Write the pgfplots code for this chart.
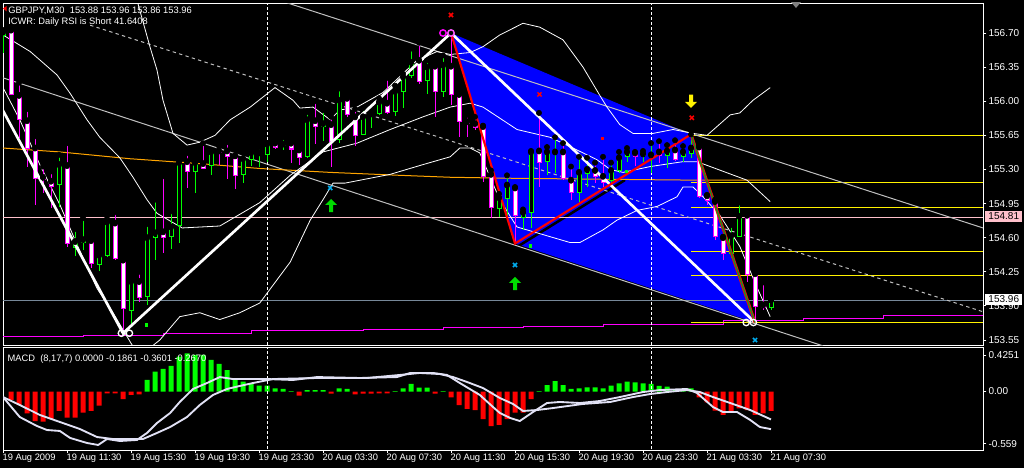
\documentclass[border=0pt]{standalone}
\usepackage{fontspec}
\setmainfont{Liberation Sans}
\usepackage{pgfplots}
\usepackage{pgfplotstable}
\pgfplotsset{compat=1.18}

\definecolor{bullc}{RGB}{0,255,0}
\definecolor{bearc}{RGB}{255,0,255}
\definecolor{trend}{RGB}{192,192,192}
\definecolor{bidline}{RGB}{119,136,153}
\definecolor{pinkl}{RGB}{255,192,203}
\definecolor{orangel}{RGB}{255,165,0}
\definecolor{macdl}{RGB}{225,225,245}
\definecolor{arrowgreen}{RGB}{0,220,0}
\definecolor{zzgreen}{RGB}{34,139,34}
\definecolor{ringpink}{RGB}{255,90,255}

% arrow marks (wingdings style)
\pgfdeclareplotmark{uarrow}{%
  \pgfpathmoveto{\pgfqpoint{0pt}{4.9pt}}%
  \pgfpathlineto{\pgfqpoint{4.5pt}{0.4pt}}%
  \pgfpathlineto{\pgfqpoint{1.5pt}{0.4pt}}%
  \pgfpathlineto{\pgfqpoint{1.5pt}{-4.9pt}}%
  \pgfpathlineto{\pgfqpoint{-1.5pt}{-4.9pt}}%
  \pgfpathlineto{\pgfqpoint{-1.5pt}{0.4pt}}%
  \pgfpathlineto{\pgfqpoint{-4.5pt}{0.4pt}}%
  \pgfpathclose\pgfusepathqfill}
\pgfdeclareplotmark{darrow}{%
  \pgfpathmoveto{\pgfqpoint{0pt}{-4.9pt}}%
  \pgfpathlineto{\pgfqpoint{4.5pt}{-0.4pt}}%
  \pgfpathlineto{\pgfqpoint{1.5pt}{-0.4pt}}%
  \pgfpathlineto{\pgfqpoint{1.5pt}{4.9pt}}%
  \pgfpathlineto{\pgfqpoint{-1.5pt}{4.9pt}}%
  \pgfpathlineto{\pgfqpoint{-1.5pt}{-0.4pt}}%
  \pgfpathlineto{\pgfqpoint{-4.5pt}{-0.4pt}}%
  \pgfpathclose\pgfusepathqfill}

% GBPJPY M30 bars, x = bar index
\pgfplotstableread{
i o h l c
0 156.67 156.73 156.50 156.71
7 155.15 155.45 154.91 155.35
9 154.50 154.69 154.41 154.56
10 154.55 154.80 154.47 154.58
12 154.33 154.45 154.26 154.42
13 154.42 154.82 154.40 154.76
16 153.85 154.16 153.68 154.15
18 154.00 154.74 153.91 154.60
19 154.60 154.99 154.37 154.65
21 154.61 154.87 154.48 154.71
22 154.73 155.41 154.55 155.37
24 155.28 155.42 155.06 155.37
26 155.34 155.48 155.24 155.48
30 155.25 155.47 155.16 155.41
31 155.40 155.51 155.34 155.47
32 155.46 155.53 155.33 155.47
33 155.45 155.57 155.38 155.56
35 155.55 155.63 155.50 155.56
38 155.43 155.89 155.42 155.81
40 155.74 155.91 155.59 155.77
42 155.61 156.13 155.57 156.01
45 155.66 155.93 155.65 155.84
46 155.86 155.88 155.73 155.87
47 155.87 156.03 155.86 155.99
49 155.89 156.16 155.85 156.10
50 156.10 156.28 155.93 156.25
51 156.26 156.54 156.24 156.40
53 156.21 156.42 156.07 156.35
55 156.10 156.47 156.04 156.37
62 154.90 155.05 154.81 155.01
63 155.00 155.24 154.81 155.14
65 154.81 154.89 154.68 154.86
66 154.86 155.49 154.70 155.48
68 155.38 155.53 155.24 155.48
69 155.47 155.63 155.26 155.48
72 155.06 155.43 154.97 155.27
73 155.26 155.42 155.12 155.30
76 155.19 155.37 155.14 155.29
77 155.29 155.48 155.26 155.42
78 155.43 155.52 155.38 155.48
80 155.44 155.49 155.38 155.46
81 155.44 155.57 155.26 155.45
83 155.44 155.55 155.31 155.49
85 155.43 155.54 155.38 155.48
86 155.46 155.66 155.42 155.52
91 154.44 154.73 154.39 154.62
92 154.61 154.96 154.61 154.82
96 153.88 153.96 153.86 153.96
}\bull

\pgfplotstableread{
i o h l c
1 156.73 156.73 156.06 156.07
2 156.06 156.19 155.62 155.81
3 155.80 155.92 155.33 155.52
4 155.52 155.64 154.94 155.21
5 155.22 155.33 155.06 155.20
6 155.18 155.28 154.90 155.13
8 155.34 155.57 154.50 154.54
11 154.57 154.60 154.29 154.34
14 154.75 154.86 154.37 154.39
15 154.37 154.37 153.62 153.87
17 154.15 154.25 153.94 153.99
20 154.66 155.23 154.44 154.60
23 155.38 155.47 155.11 155.28
25 155.36 155.57 155.31 155.31
27 155.49 155.54 155.35 155.47
28 155.49 155.58 155.20 155.43
29 155.44 155.44 155.10 155.24
34 155.57 155.58 155.51 155.53
36 155.57 155.58 155.37 155.51
37 155.50 155.50 155.35 155.42
39 155.80 156.00 155.56 155.74
41 155.76 155.84 155.33 155.59
43 156.03 156.08 155.84 155.86
44 155.84 155.92 155.54 155.65
48 155.98 156.24 155.87 155.88
52 156.42 156.60 156.18 156.20
54 156.36 156.37 155.84 156.10
56 156.36 156.70 155.96 156.07
57 156.07 156.10 155.63 155.79
58 155.79 155.86 155.63 155.77
59 155.77 155.84 155.70 155.73
60 155.74 155.75 155.17 155.23
61 155.25 155.29 154.80 154.91
64 155.11 155.12 154.54 154.83
67 155.49 155.88 155.12 155.37
70 155.48 155.57 155.19 155.21
71 155.19 155.33 154.99 155.06
74 155.29 155.37 155.16 155.23
75 155.23 155.43 155.12 155.17
79 155.47 155.48 155.34 155.43
82 155.48 155.59 155.37 155.44
84 155.50 155.60 155.39 155.40
87 155.53 155.55 155.01 155.02
88 155.03 155.04 154.94 154.98
89 154.97 154.99 154.58 154.61
90 154.60 154.61 154.37 154.44
93 154.83 154.85 154.15 154.22
94 154.23 154.24 153.73 153.89
95 153.91 154.14 153.86 153.88
}\bear

% Bollinger bands
\pgfplotstableread{
i p
16.4 157.14
18.4 156.55
19.25 156.32
20 156.01
21.25 155.67
23 155.55
24.6 155.58
26.5 155.65
28.4 155.81
30.9 155.94
34 156.14
36.25 156.01
37.1 155.93
38.75 155.94
40.9 155.81
42.1 155.91
44.25 155.94
47.5 156.09
51.75 156.42
54.25 156.51
55.9 156.48
58.4 156.50
60 156.56
62.1 156.68
65 156.80
67.1 156.76
70 156.63
72.5 156.35
74.6 156.06
75.5 155.94
77.1 155.76
78.75 155.67
81.25 155.67
83.75 155.71
86.25 155.67
88 155.65
90.9 155.86
92.1 155.88
93.75 156.01
95.9 156.14
}\bbup

\pgfplotstableread{
i p
0 156.68
3.4 156.51
6.75 156.27
8.4 156.08
10.5 155.81
12.1 155.63
14.6 155.42
16.25 155.22
18 154.99
19.25 154.85
22.4 154.70
27.1 154.72
32.1 154.96
35.9 155.24
40 155.48
44.25 155.57
48.4 155.71
52.5 155.84
55.9 155.94
58.4 155.98
60 155.94
64.25 155.71
68.4 155.63
71.75 155.50
74.25 155.40
75.9 155.30
77.5 155.27
80.9 155.33
85 155.38
86.75 155.38
88.4 155.33
93 155.19
95.9 154.97
}\bbmid

\pgfplotstableread{
i p
0 156.14
2.1 155.81
4.6 155.35
7.1 154.94
9.25 154.53
11.75 154.08
13.75 153.83
15.25 153.62
16.5 153.45
17.75 153.43
19.6 153.55
22.1 153.79
24.6 153.83
27.1 153.76
29.6 153.83
32.1 153.93
35.9 154.35
38.4 154.78
40 154.99
41.25 155.16
42.75 155.16
48.4 155.25
52.5 155.35
55.9 155.43
57.1 155.52
58.4 155.52
59.6 155.47
62.1 154.99
64.25 154.71
66.75 154.65
68.4 154.61
70.9 154.55
72.1 154.55
75 154.68
76.75 154.78
79.25 154.88
81.75 154.92
84.25 155.02
85 155.12
86.25 155.12
87.5 155.02
89.6 154.83
92.1 154.51
94.25 154.09
95.9 153.79
}\bblow

% MACD (8,17,7)
\pgfplotstableread{
i v
1 -0.081
2 -0.129
3 -0.209
4 -0.282
5 -0.288
6 -0.263
7 -0.186
8 -0.250
9 -0.250
10 -0.202
11 -0.186
12 -0.135
13 -0.018
14 -0.018
15 -0.072
16 -0.033
17 -0.027
37 -0.040
41 -0.021
44 -0.027
45 -0.021
46 -0.021
47 -0.018
48 -0.018
54 -0.021
56 -0.056
57 -0.129
58 -0.167
59 -0.177
60 -0.263
61 -0.330
62 -0.320
63 -0.263
64 -0.202
65 -0.202
66 -0.072
87 -0.056
88 -0.103
89 -0.183
90 -0.224
91 -0.202
92 -0.161
93 -0.177
94 -0.224
95 -0.209
96 -0.186
}\histneg

\pgfplotstableread{
i v
18 0.110
19 0.189
20 0.215
21 0.244
22 0.333
23 0.365
24 0.349
25 0.349
26 0.301
27 0.263
28 0.205
29 0.110
30 0.094
31 0.078
32 0.056
33 0.056
34 0.030
35 0.024
36 0.004
38 0.014
39 0.014
40 0.014
42 0.030
43 0.024
49 0.004
50 0.030
51 0.072
52 0.037
53 0.037
55 0.004
67 0.004
68 0.062
69 0.100
70 0.062
71 0.024
72 0.030
73 0.040
74 0.040
75 0.030
76 0.056
77 0.078
78 0.094
79 0.088
80 0.078
81 0.072
82 0.053
83 0.046
84 0.021
85 0.014
86 0.030
}\histpos

\pgfplotstableread{
i v
0 -0.053
2.1 -0.244
4.25 -0.330
5.5 -0.368
7.1 -0.377
8.4 -0.444
10.5 -0.492
11.9 -0.511
13 -0.454
14.6 -0.473
16.75 -0.463
18 -0.396
19.25 -0.301
20.9 -0.205
22.1 -0.100
23.75 0.024
25.5 0.081
27.1 0.138
28.75 0.119
33 0.119
36.25 0.110
39.25 0.138
44.6 0.129
49.25 0.138
50.9 0.177
53.75 0.177
55.5 0.158
57.1 0.081
59.6 -0.033
61.25 -0.148
62.1 -0.205
63.4 -0.253
64.6 -0.282
66.25 -0.196
68 -0.110
69.6 -0.100
72.1 -0.110
74.6 -0.091
77.1 -0.053
80 -0.005
82.1 0.014
85.5 0.024
86.75 -0.014
88.75 -0.148
90 -0.196
91.75 -0.196
93.4 -0.272
94.6 -0.339
96 -0.360
}\macdmain

\pgfplotstableread{
i v
0 -0.053
2.1 -0.129
4.6 -0.224
7.1 -0.291
9.6 -0.358
11.75 -0.435
13.75 -0.454
17.5 -0.454
19.25 -0.396
20.9 -0.339
23 -0.244
24.6 -0.129
26.25 -0.033
28 0.024
29.6 0.053
31.25 0.081
33.75 0.119
39.25 0.129
45.5 0.129
49.6 0.158
52.1 0.177
54.6 0.167
56.25 0.138
58 0.091
60 0.033
62.1 -0.062
63.75 -0.119
65 -0.186
66.75 -0.177
68.75 -0.158
72.5 -0.119
75.9 -0.100
78.75 -0.053
80.9 -0.024
83 -0.005
85.5 0.014
87.1 -0.005
88.75 -0.053
90.9 -0.110
93.4 -0.177
96 -0.267
}\macdsig

\pgfplotsset{
  wick/.style={only marks, mark=none, forget plot,
    error bars/.cd, y dir=minus, y explicit, error mark=none,
    error bar style={line width=0.75pt, color=#1}},
  body/.style 2 args={only marks, mark=none, forget plot,
    error bars/.cd, y dir=minus, y explicit, error mark=none,
    error bar style={line width=#2, color=#1}},
}

\begin{document}
\begin{tikzpicture}
\path[use as bounding box] (0,0) rectangle (768pt,-351pt);
\fill[black] (0,0) rectangle (768pt,-351pt);

%%%%%%%% price panel
\begin{axis}[
  anchor=north west, at={(2.25pt,-2.25pt)},
  scale only axis, width=735pt, height=256.5pt,
  xmin=0, xmax=122.5, ymin=153.499, ymax=157.008,
  axis background/.style={fill=black},
  axis line style={white, line width=0.75pt},
  xtick=\empty,
  ytick={153.55,153.90,154.25,154.60,154.95,155.30,155.65,156.00,156.35,156.70},
  yticklabels={153.55,153.90,154.25,154.60,154.95,155.30,155.65,156.00,156.35,156.70},
  ytick pos=right, yticklabel pos=right,
  tick align=outside, major tick length=2.5pt,
  tick style={white, line width=0.75pt},
  yticklabel style={font=\fontsize{7.5}{9}\selectfont, text=white, anchor=west, inner sep=0pt, xshift=1.5pt},
]
% harmonic pattern
\addplot[fill=blue, draw=none, forget plot] coordinates {(56,156.70) (64,154.54) (94,153.73) (86,155.66)} -- cycle;
\addplot[black, line width=1.9pt] coordinates {(64.25,154.505) (77.75,155.192)};

% horizontal levels
\addplot[pinkl, line width=0.75pt] coordinates {(0,154.81) (122.5,154.81)};
\addplot[bidline, line width=0.75pt] coordinates {(0,153.96) (122.5,153.96)};
\addplot[bearc, line width=0.75pt, const plot] coordinates {(0,153.59) (10,153.60) (20,153.62) (31,153.65) (45,153.66) (55,153.68) (65,153.69) (75,153.71) (90,153.75) (100,153.77) (110,153.80) (122.5,153.83)};
\addplot[yellow, line width=0.75pt] coordinates {(86,155.65) (122.5,155.65)};
\addplot[yellow, line width=0.75pt] coordinates {(86,155.17) (122.5,155.17)};
\addplot[yellow, line width=0.75pt] coordinates {(86,154.91) (122.5,154.91)};
\addplot[yellow, line width=0.75pt] coordinates {(86,154.46) (122.5,154.46)};
\addplot[yellow, line width=0.75pt] coordinates {(86,154.21) (122.5,154.21)};
\addplot[yellow, line width=0.75pt] coordinates {(86,153.73) (122.5,153.73)};

% trend lines
\addplot[trend, line width=0.75pt] coordinates {(0,156.24) (102.5,153.49)};
\addplot[trend, line width=0.75pt] coordinates {(35.5,157.01) (122.5,154.70)};
\addplot[trend, line width=0.75pt, dash pattern=on 2.5pt off 2.5pt] coordinates {(10.9,156.78) (122.5,153.84)};

% moving average
\addplot[orangel, line width=0.75pt] coordinates {(0,155.52) (7.1,155.48) (15.9,155.41) (24.6,155.36) (32.1,155.31) (40.9,155.27) (49.6,155.24) (55.9,155.22) (63.4,155.21) (74.6,155.20) (87.1,155.19) (95.9,155.19)};

% bollinger bands
\addplot[white, line width=0.6pt] table[x=i,y=p] {\bbup};
\addplot[white, line width=0.6pt] table[x=i,y=p] {\bbmid};
\addplot[white, line width=0.6pt] table[x=i,y=p] {\bblow};

% day separators
\addplot[white, line width=0.75pt, dash pattern=on 2.25pt off 1.5pt] coordinates {(33,153.4) (33,157.1)};
\addplot[white, line width=0.75pt, dash pattern=on 2.25pt off 1.5pt] coordinates {(81,153.4) (81,157.1)};

% candles: wicks
\addplot[wick=bullc] table[x=i, y=h, y error minus expr={\thisrow{h}-\thisrow{l}}] {\bull};
\addplot[wick=bearc] table[x=i, y=h, y error minus expr={\thisrow{h}-\thisrow{l}}] {\bear};
% candles: bodies
\addplot[body={bullc}{3.75pt}] table[x=i, y expr={\thisrow{c}+0.0051}, y error minus expr={\thisrow{c}-\thisrow{o}+0.0103}] {\bull};
\addplot[body={black}{2.25pt}] table[x=i, y expr={\thisrow{c}-0.0051}, y error minus expr={max(\thisrow{c}-\thisrow{o}-0.0103,0)}] {\bull};
\addplot[body={bearc}{3.75pt}] table[x=i, y expr={\thisrow{o}+0.0051}, y error minus expr={\thisrow{o}-\thisrow{c}+0.0103}] {\bear};
\addplot[body={white}{2.25pt}] table[x=i, y expr={\thisrow{o}-0.0051}, y error minus expr={max(\thisrow{o}-\thisrow{c}-0.0103,0)}] {\bear};

% zigzags
\addplot[white, line width=2pt] coordinates {(-0.5,155.98) (15,153.62) (56,156.70) (94,153.73)};
\addplot[red, line width=1.6pt] coordinates {(56,156.70) (64,154.54) (86,155.66)};
\addplot[red, line width=2.2pt] coordinates {(86,155.66) (94,153.73)};
\addplot[zzgreen, line width=1.1pt] coordinates {(86,155.66) (94,153.73)};

% pattern markers
\addplot[only marks, mark=o, mark size=2.4pt, white, mark options={line width=1pt}] coordinates {(14.8,153.62) (15.8,153.62) (92.9,153.73) (93.8,153.73)};
\addplot[only marks, mark=o, mark size=2.4pt, bearc, mark options={line width=1.1pt}] coordinates {(55,156.70)};
\addplot[only marks, mark=o, mark size=2.4pt, ringpink, mark options={line width=1.1pt}] coordinates {(56,156.70)};
\addplot[only marks, mark=x, mark size=2.2pt, red, mark options={line width=1.1pt}] coordinates {(56,156.885) (67.06,156.07) (86.1,155.83)};
\addplot[only marks, mark=x, mark size=2.2pt, cyan, mark options={line width=1.1pt}] coordinates {(40.9,155.11) (64,154.32) (94,153.55)};
\addplot[only marks, mark=uarrow, arrowgreen] coordinates {(41,154.93) (64,154.13)};
\addplot[only marks, mark=darrow, yellow] coordinates {(86,156.00)};
\addplot[only marks, mark=square*, mark size=1pt, bullc] coordinates {(17.9,153.71) (65.9,154.52) (77.9,155.28)};
\addplot[only marks, mark=square*, mark size=0.8pt, red] coordinates {(74.9,155.62)};
\end{axis}

%%%%%%%% MACD panel
\begin{axis}[
  anchor=north west, at={(2.25pt,-260.25pt)},
  scale only axis, width=735pt, height=77.25pt,
  xmin=0, xmax=122.5, ymin=-0.559, ymax=0.4251,
  axis background/.style={fill=black},
  axis line style={white, line width=0.75pt},
  xtick={0,8,...,96},
  xticklabels={19 Aug 2009,19 Aug 11:30,19 Aug 15:30,19 Aug 19:30,19 Aug 23:30,20 Aug 03:30,20 Aug 07:30,20 Aug 11:30,20 Aug 15:30,20 Aug 19:30,20 Aug 23:30,21 Aug 03:30,21 Aug 07:30},
  xtick pos=left,
  xticklabel style={font=\fontsize{7}{8}\selectfont, text=white, anchor=north west, inner sep=0pt, xshift=-0.5pt, yshift=-0.5pt},
  ytick={-0.5014,0,0.3486},
  yticklabels={-0.559,0.00,0.4251},
  ytick pos=right, yticklabel pos=right,
  tick align=outside, major tick length=2.5pt,
  tick style={white, line width=0.75pt},
  yticklabel style={font=\fontsize{7.5}{9}\selectfont, text=white, anchor=west, inner sep=0pt, xshift=1.5pt},
]
\addplot[ybar, bar width=3.75pt, bar shift=0pt, fill=red, draw=none] table[x=i,y=v] {\histneg};
\addplot[ybar, bar width=3.75pt, bar shift=0pt, fill=bullc, draw=none] table[x=i,y=v] {\histpos};
\addplot[white, line width=0.75pt, dash pattern=on 2.25pt off 1.5pt] coordinates {(33,-0.6) (33,0.5)};
\addplot[white, line width=0.75pt, dash pattern=on 2.25pt off 1.5pt] coordinates {(81,-0.6) (81,0.5)};
\addplot[macdl, line width=1.4pt] table[x=i,y=v] {\macdsig};
\addplot[macdl, line width=1.4pt] table[x=i,y=v] {\macdmain};
\end{axis}

% chart captions and price tags
\node[anchor=base west, inner sep=0pt, text=white, font=\fontsize{7}{8}\selectfont] at (6pt,-10.3pt) {GBPJPY,M30\ \ 153.88 153.96 153.86 153.96};
\node[anchor=base west, inner sep=0pt, text=white, font=\fontsize{7}{8}\selectfont] at (6pt,-18.5pt) {ICWR: Daily RSI is Short 41.6408};
\node[anchor=base west, inner sep=0pt, text=white, font=\fontsize{7}{8}\selectfont] at (5.5pt,-270.75pt) {MACD\ \ (8,17,7) 0.0000 -0.1861 -0.3601 -0.2670};
\node[anchor=west, fill=pinkl, text=black, inner sep=0pt, minimum width=27.75pt, minimum height=8.25pt, font=\fontsize{7.5}{9}\selectfont] at (738.75pt,-162.4pt) {154.81};
\node[anchor=west, fill=white, text=black, inner sep=0pt, minimum width=27.75pt, minimum height=8.25pt, font=\fontsize{7.5}{9}\selectfont] at (738.75pt,-224.6pt) {153.96};
\fill[gray] (593.25pt,-1.5pt) -- (600.75pt,-1.5pt) -- (597pt,-6pt) -- cycle;
\fill[red] (2.25pt,-6.4pt) -- (5pt,-4.5pt) -- (5pt,-8.5pt) -- cycle;
\end{tikzpicture}
\end{document}
